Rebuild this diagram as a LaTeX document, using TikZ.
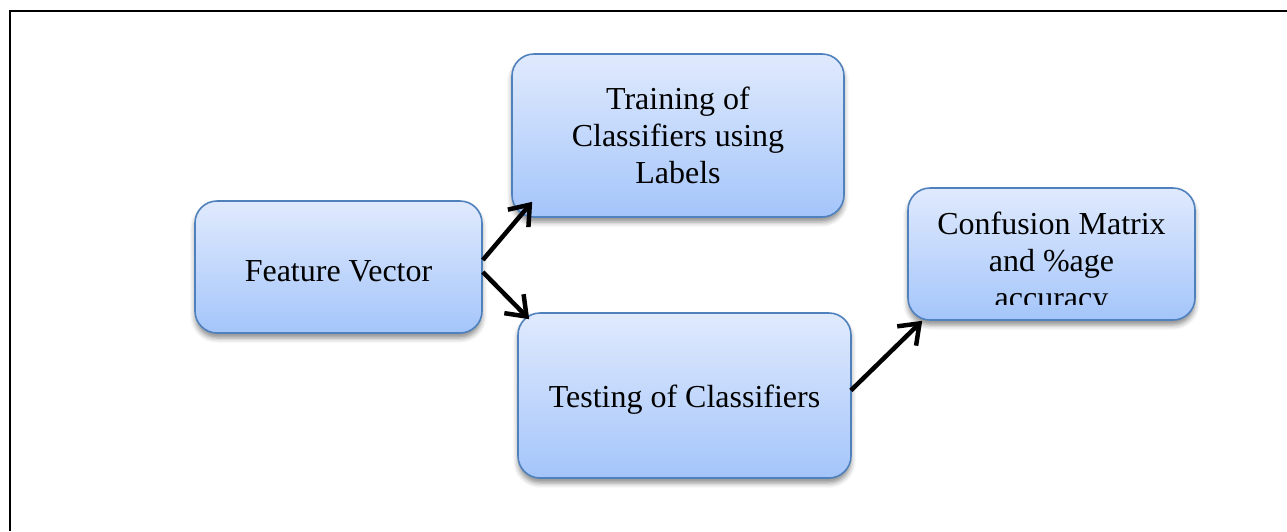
\documentclass[tikz,border=0pt]{standalone}
\usepackage{fontspec}
\setmainfont{Liberation Serif}
\usetikzlibrary{arrows.meta,shadows.blur}

\definecolor{boxtop}{RGB}{224,234,253}
\definecolor{boxbottom}{RGB}{164,197,250}
\definecolor{boxedge}{RGB}{79,129,189}

\tikzset{
  stagefont/.style={font=\fontsize{32}{37}\selectfont},
  stagebox/.style={
    draw=boxedge, line width=1.6pt, rounded corners=22pt,
    top color=boxtop, bottom color=boxbottom,
    blur shadow={shadow xshift=0pt, shadow yshift=-5pt,
                 shadow blur radius=5pt, shadow opacity=45},
    align=center, inner sep=0pt, stagefont,
    execute at begin node={\rule{0pt}{30pt}}
  },
  flow/.style={
    line width=4.5pt,
    -{Straight Barb[length=18pt,width=27pt,line width=4.5pt]}
  },
  frameline/.style={line width=2.5pt}
}

\begin{document}
\begin{tikzpicture}[x=1pt,y=-1pt]
  \useasboundingbox (0,0) rectangle (1287,531);

  % page frame (top and left rules)
  \coordinate (fbl) at (10,531);
  \coordinate (ftl) at (10,11);
  \coordinate (ftr) at (1287,11);
  \draw[frameline] (fbl) -- (ftl) -- (ftr);

  % processing stages
  \node[stagebox, minimum width=287pt, minimum height=132pt]
    (fv) at (338.5,267) {Feature Vector};
  \node[stagebox, minimum width=332pt, minimum height=163pt]
    (tr) at (678,135.5) {Training of\\Classifiers using\\Labels};
  \node[stagebox, minimum width=333pt, minimum height=165pt]
    (te) at (684.5,395.5) {Testing of Classifiers};
  \node[stagebox, minimum width=287pt, minimum height=132pt]
    (cm) at (1051.5,254) {};

  % text of the last stage, cut off inside its box
  \begin{scope}
    \clip ([xshift=2pt,yshift=-2pt]cm.north west) rectangle ([xshift=-2pt,yshift=16pt]cm.south east);
    \node[align=center, inner sep=0pt, stagefont]
      (cmtext) at (1051.5,263.5) {Confusion Matrix\\and \%age\\accuracy};
  \end{scope}

  % connectors
  \coordinate (a1s) at ([yshift=7pt]fv.east);
  \coordinate (a1e) at ([shift={(21,-16)}]tr.south west);
  \coordinate (a2s) at ([yshift=-5pt]fv.east);
  \coordinate (a2e) at ([shift={(12,7)}]te.north west);
  \coordinate (a3s) at ([shift={(-1,-5)}]te.east);
  \coordinate (a3e) at ([shift={(15,0)}]cm.south west);
  \draw[flow] (a1s) -- (a1e);
  \draw[flow] (a2s) -- (a2e);
  \draw[flow] (a3s) -- (a3e);
\end{tikzpicture}
\end{document}
